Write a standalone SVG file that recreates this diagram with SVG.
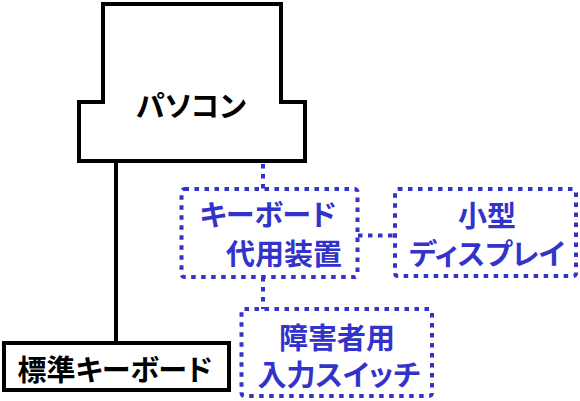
<svg xmlns="http://www.w3.org/2000/svg" width="580" height="401" viewBox="0 0 580 401">
<style>
.solid{fill:#fff;stroke:#000;stroke-width:4}
.dot{fill:#fff;stroke:#3333cc;stroke-width:4;stroke-dasharray:4.5 5.5}
.dotline{fill:none;stroke:#3333cc;stroke-width:4;stroke-dasharray:4.5 5.5}
.line{fill:none;stroke:#000;stroke-width:4}
text{font-family:"Noto Sans CJK JP","Noto Sans CJK SC",sans-serif;font-size:29px;font-weight:bold;text-anchor:middle;font-feature-settings:"palt"}
.b{fill:#000}
.u{fill:#3333cc}
</style>
<rect width="580" height="401" fill="#fff"/>
<g id="connectors">
<line class="line" x1="116" y1="161" x2="116" y2="343"/>
<line class="dotline" x1="263" y1="164" x2="263" y2="189"/>
<line class="dotline" x1="358" y1="235.5" x2="395" y2="235.5"/>
<line class="dotline" x1="263" y1="277" x2="263" y2="309"/>
</g>
<g id="pc">
<path class="solid" d="M103,4 H281 V102 H305 V161 H79 V102 H103 Z"/>
<text class="b" x="191" y="117">パソコン</text>
</g>
<g id="standard-keyboard">
<rect class="solid" x="4" y="343" width="225" height="47"/>
<text class="b" x="115" y="381">標準キーボード</text>
</g>
<g id="keyboard-substitute">
<rect class="dot" x="181.5" y="189" width="176" height="88" rx="3"/>
<text class="u" x="268" y="226">キーボード</text>
<text class="u" x="284" y="265">代用装置</text>
</g>
<g id="small-display">
<rect class="dot" x="395" y="189" width="181" height="87" rx="3"/>
<text class="u" x="487" y="227">小型</text>
<text class="u" x="487" y="265">ディスプレイ</text>
</g>
<g id="switch">
<rect class="dot" x="241.5" y="309" width="190.5" height="87" rx="3"/>
<text class="u" x="337" y="349">障害者用</text>
<text class="u" x="339" y="386">入力スイッチ</text>
</g>
</svg>
